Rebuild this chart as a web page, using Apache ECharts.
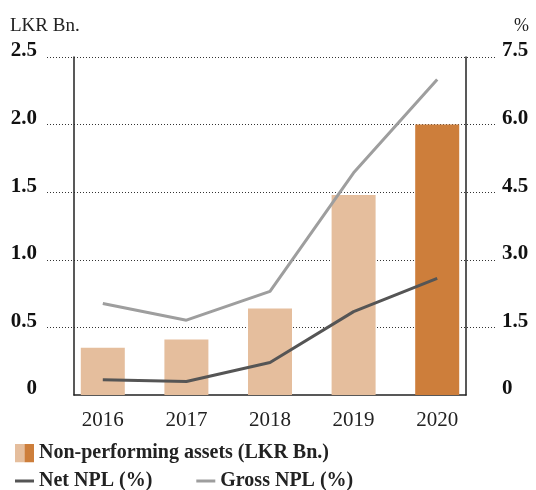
<!DOCTYPE html>
<html>
<head>
<meta charset="utf-8">
<script src="https://cdn.jsdelivr.net/npm/echarts@6/dist/echarts.min.js"></script>
<style>
  html, body { margin: 0; padding: 0; background: #fff; }
  #chart { width: 536px; height: 490px; }
</style>
</head>
<body>
<div id="chart"></div>
<script>
// chart data
var years = ["2016", "2017", "2018", "2019", "2020"];
var npaValues = [0.35, 0.41, 0.64, 1.48, 2.0];   // LKR Bn.
var netNpl = [0.34, 0.30, 0.72, 1.85, 2.59];      // %
var grossNpl = [2.03, 1.66, 2.30, 4.93, 7.0];     // %
var leftTicks = ["0", "0.5", "1.0", "1.5", "2.0", "2.5"];
var rightTicks = ["0", "1.5", "3.0", "4.5", "6.0", "7.5"];

var lightBar = "#E5BE9D";
var darkBar = "#CD7E3B";
var serif = "'Liberation Serif', 'DejaVu Serif', serif";

var chart = echarts.init(document.getElementById("chart"));

// two-tone swatch for the bar legend
var swatch = "image://data:image/svg+xml;utf8," + encodeURIComponent(
  '<svg xmlns="http://www.w3.org/2000/svg" width="19" height="19">' +
  '<rect x="0" y="0" width="9.5" height="19" fill="' + lightBar + '"/>' +
  '<rect x="9.5" y="0" width="9.5" height="19" fill="' + darkBar + '"/></svg>');

function hiddenAxis(extra) {
  return Object.assign({
    show: false
  }, extra);
}

var option = {
  animation: false,
  title: [
    { text: "LKR Bn.", left: 10, top: 17, padding: 0, textStyle: { fontFamily: serif, fontSize: 19, fontWeight: "normal", color: "#222" } },
    { text: "%", right: 7, top: 17, padding: 0, textStyle: { fontFamily: serif, fontSize: 18, fontWeight: "normal", color: "#222" } }
  ],
  legend: [
    {
      left: 10, top: 438,
      itemWidth: 19, itemHeight: 19,
      textStyle: { fontFamily: serif, fontSize: 20, fontWeight: "bold", color: "#222" },
      data: [{ name: "Non-performing assets (LKR Bn.)", icon: swatch }]
    },
    {
      left: 10, top: 466,
      itemWidth: 19, itemHeight: 3, itemGap: 44,
      textStyle: { fontFamily: serif, fontSize: 20, fontWeight: "bold", color: "#222" },
      data: [
        { name: "Net NPL (%)", icon: "rect" },
        { name: "Gross NPL (%)", icon: "rect" }
      ]
    }
  ],
  grid: [
    { left: 74, right: 70, top: 57, bottom: 95 },   // frame
    { left: 47, right: 39, top: 57, bottom: 95 },   // dotted lines + value labels
    { left: 61, right: 57, top: 57, bottom: 95 }    // data
  ],
  xAxis: [
    {
      gridIndex: 0, type: "category", data: years,
      axisLine: { show: true, lineStyle: { color: "#222", width: 1.5 } },
      axisTick: { show: false }, axisLabel: { show: false }
    },
    { gridIndex: 1, type: "category", data: years, show: false },
    {
      gridIndex: 2, type: "category", data: years,
      axisLine: { show: false }, axisTick: { show: false },
      axisLabel: { margin: 15, fontFamily: serif, fontSize: 21, color: "#222" }
    }
  ],
  yAxis: [
    {
      gridIndex: 0, type: "value", min: 0, max: 2.5, interval: 0.5, position: "left",
      axisLine: { show: true, lineStyle: { color: "#222", width: 1.5 } },
      axisTick: { show: false }, axisLabel: { show: false }, splitLine: { show: false }
    },
    {
      gridIndex: 0, type: "value", min: 0, max: 7.5, interval: 1.5, position: "right",
      axisLine: { show: true, lineStyle: { color: "#222", width: 1.5 } },
      axisTick: { show: false }, axisLabel: { show: false }, splitLine: { show: false }
    },
    {
      gridIndex: 1, type: "value", min: 0, max: 2.5, interval: 0.5, position: "left",
      axisLine: { show: false }, axisTick: { show: false },
      axisLabel: {
        margin: 10, fontFamily: serif, fontSize: 21, fontWeight: "bold", color: "#111",
        verticalAlign: "bottom", lineHeight: 12,
        formatter: function (v) { return leftTicks[Math.round(v / 0.5)]; }
      },
      splitLine: { show: true, showMinLine: false, lineStyle: { color: "#333", width: 1, type: [1, 2] } }
    },
    {
      gridIndex: 1, type: "value", min: 0, max: 7.5, interval: 1.5, position: "right",
      axisLine: { show: false }, axisTick: { show: false },
      axisLabel: {
        margin: 5, fontFamily: serif, fontSize: 21, fontWeight: "bold", color: "#111",
        verticalAlign: "bottom", lineHeight: 12,
        formatter: function (v) { return rightTicks[Math.round(v / 1.5)]; }
      },
      splitLine: { show: false }
    },
    hiddenAxis({ gridIndex: 2, type: "value", min: 0, max: 2.5 }),
    hiddenAxis({ gridIndex: 2, type: "value", min: 0, max: 7.5 })
  ],
  series: [
    {
      name: "Non-performing assets (LKR Bn.)",
      type: "bar", xAxisIndex: 2, yAxisIndex: 4,
      barWidth: 44,
      itemStyle: { color: lightBar },
      data: npaValues.map(function (v, i) {
        return i === npaValues.length - 1 ? { value: v, itemStyle: { color: darkBar } } : v;
      })
    },
    {
      name: "Net NPL (%)",
      type: "line", xAxisIndex: 2, yAxisIndex: 5,
      symbol: "none",
      itemStyle: { color: "#555" },
      lineStyle: { color: "#555", width: 3 },
      data: netNpl
    },
    {
      name: "Gross NPL (%)",
      type: "line", xAxisIndex: 2, yAxisIndex: 5,
      symbol: "none",
      itemStyle: { color: "#9E9E9E" },
      lineStyle: { color: "#9E9E9E", width: 3 },
      data: grossNpl
    }
  ]
};

chart.setOption(option);
</script>
</body>
</html>
